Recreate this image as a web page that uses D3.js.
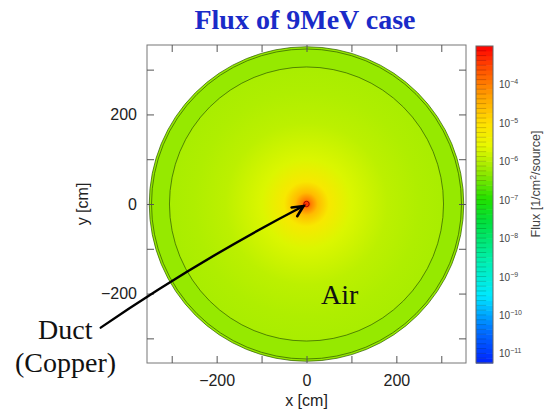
<!DOCTYPE html>
<html>
<head>
<meta charset="utf-8">
<script src="https://cdn.jsdelivr.net/npm/d3@7"></script>
<style>
  body { margin: 0; background: #fff; }
  svg { display: block; }
</style>
</head>
<body>
<svg id="chart" width="545" height="416"></svg>
<script>
// radial flux profile (radius in cm, log10 flux)
const profileRadius = [0, 4, 10, 25, 50, 100, 180, 250, 305];
const profileLogFlux = [-3.2, -3.5, -4.0, -4.6, -5.2, -5.7, -5.95, -6.05, -6.1];
// outer air ring between the two boundaries
const ringRadius = [305, 350];
const ringLogFlux = -6.25;
const contourRadii = [305, 345, 350];
const ductRadius = 6;

// colour bar
const cbarStops = [-11.2, -10.4, -9.5, -8.6, -7.6, -7.0, -6.3, -5.6, -5.0, -4.3, -3.6, -3.0];
const cbarColors = ["#0028ff", "#0070ff", "#00e8ff", "#00f0b0", "#00e040", "#20e000",
  "#90e800", "#e8f800", "#ffe000", "#ffa000", "#ff5000", "#ff0000"];
const cbarTicks = [-11, -10, -9, -8, -7, -6, -5, -4];

const axisTicks = [-300, -200, -100, 0, 100, 200, 300];
const labelledTicks = [-200, 0, 200];

const svg = d3.select("#chart");

const x = d3.scaleLinear().domain([-355, 355]).range([147, 466]);
const y = d3.scaleLinear().domain([-355, 355]).range([363, 45]);
const color = d3.scaleLinear().domain(cbarStops).range(cbarColors).clamp(true);
const cy = d3.scaleLinear().domain([-11.25, -3]).range([363, 46]);

const pxPerCm = x(1) - x(0);
const outerR = ringRadius[1];

// gradient for the flux map
const defs = svg.append("defs");
const grad = defs.append("radialGradient")
  .attr("id", "flux")
  .attr("gradientUnits", "userSpaceOnUse")
  .attr("cx", x(0)).attr("cy", y(0))
  .attr("r", outerR * pxPerCm);
profileRadius.forEach((r, i) => {
  grad.append("stop")
    .attr("offset", r / outerR)
    .attr("stop-color", color(profileLogFlux[i]));
});
grad.append("stop").attr("offset", ringRadius[0] / outerR).attr("stop-color", color(ringLogFlux));
grad.append("stop").attr("offset", 1).attr("stop-color", color(ringLogFlux));

svg.append("circle")
  .attr("cx", x(0)).attr("cy", y(0))
  .attr("r", outerR * pxPerCm)
  .attr("fill", "url(#flux)");

svg.append("g").selectAll("circle")
  .data(contourRadii)
  .join("circle")
  .attr("cx", x(0)).attr("cy", y(0))
  .attr("r", d => d * pxPerCm)
  .attr("fill", "none")
  .attr("stroke", "#2f5a00")
  .attr("stroke-opacity", 0.8)
  .attr("stroke-width", 0.9);

svg.append("circle")
  .attr("cx", x(0)).attr("cy", y(0))
  .attr("r", ductRadius * pxPerCm)
  .attr("fill", "none")
  .attr("stroke", "#a00000")
  .attr("stroke-width", 1);

// frame + ticks
svg.append("rect")
  .attr("x", x(-355)).attr("y", y(355))
  .attr("width", x(355) - x(-355)).attr("height", y(-355) - y(355))
  .attr("fill", "none").attr("stroke", "#777");

const fmt = d => labelledTicks.includes(d) ? d3.format("d")(d) : "";

function styleAxis(g) {
  g.select(".domain").remove();
  g.selectAll(".tick line").attr("stroke", "#555");
  g.selectAll(".tick text")
    .attr("font-family", "Liberation Sans, Arial, sans-serif")
    .attr("font-size", 16)
    .attr("fill", "#222");
}

svg.append("g").attr("transform", `translate(0,${y(-355)})`)
  .call(d3.axisBottom(x).tickValues(axisTicks).tickFormat(fmt).tickSizeInner(-7).tickSizeOuter(0).tickPadding(12))
  .call(styleAxis);
svg.append("g").attr("transform", `translate(0,${y(355)})`)
  .call(d3.axisTop(x).tickValues(axisTicks).tickFormat("").tickSizeInner(-7).tickSizeOuter(0))
  .call(styleAxis);
svg.append("g").attr("transform", `translate(${x(-355)},0)`)
  .call(d3.axisLeft(y).tickValues(axisTicks).tickFormat(fmt).tickSizeInner(-7).tickSizeOuter(0).tickPadding(10))
  .call(styleAxis);
svg.append("g").attr("transform", `translate(${x(355)},0)`)
  .call(d3.axisRight(y).tickValues(axisTicks).tickFormat("").tickSizeInner(-7).tickSizeOuter(0))
  .call(styleAxis);

// axis titles
svg.append("text")
  .attr("x", x(0)).attr("y", 406)
  .attr("text-anchor", "middle")
  .attr("font-family", "Liberation Sans, Arial, sans-serif")
  .attr("font-size", 16).attr("fill", "#222")
  .text("x [cm]");
svg.append("text")
  .attr("transform", `translate(88,${y(0)}) rotate(-90)`)
  .attr("text-anchor", "middle")
  .attr("font-family", "Liberation Sans, Arial, sans-serif")
  .attr("font-size", 16).attr("fill", "#222")
  .text("y [cm]");

// title
svg.append("text")
  .attr("x", 305).attr("y", 29)
  .attr("text-anchor", "middle")
  .attr("font-family", "Liberation Serif, Times New Roman, serif")
  .attr("font-weight", "bold")
  .attr("font-size", 28)
  .attr("fill", "#1a2bc8")
  .text("Flux of 9MeV case");

// colour bar
const cbX = 476, cbW = 17;
const steps = d3.range(-11.25, -3, 0.125);
svg.append("g").selectAll("rect")
  .data(steps)
  .join("rect")
  .attr("x", cbX)
  .attr("y", d => cy(d + 0.125))
  .attr("width", cbW)
  .attr("height", d => cy(d) - cy(d + 0.125) + 0.5)
  .attr("fill", d => color(d + 0.0625));
svg.append("g").selectAll("line")
  .data(steps)
  .join("line")
  .attr("x1", cbX).attr("x2", cbX + cbW * 0.6)
  .attr("y1", d => cy(d)).attr("y2", d => cy(d))
  .attr("stroke", "#000")
  .attr("stroke-opacity", 0.18);
svg.append("rect")
  .attr("x", cbX).attr("y", cy(-3))
  .attr("width", cbW).attr("height", cy(-11.25) - cy(-3))
  .attr("fill", "none").attr("stroke", "#666");

const cbLabels = svg.append("g").selectAll("text")
  .data(cbarTicks)
  .join("text")
  .attr("x", 499)
  .attr("y", d => cy(d) + 4)
  .attr("font-family", "Liberation Sans, Arial, sans-serif")
  .attr("font-size", 10)
  .attr("fill", "#444");
cbLabels.append("tspan").text("10");
cbLabels.append("tspan").attr("dy", -4).attr("font-size", 7).text(d => "\u2212" + Math.abs(d));

const cbTitle = svg.append("text")
  .attr("transform", `translate(540,184) rotate(-90)`)
  .attr("text-anchor", "middle")
  .attr("font-family", "Liberation Sans, Arial, sans-serif")
  .attr("font-size", 12.5)
  .attr("fill", "#444");
cbTitle.append("tspan").text("Flux [1/cm");
cbTitle.append("tspan").attr("dy", -4).attr("font-size", 8.5).text("2");
cbTitle.append("tspan").attr("dy", 4).text("/source]");

// annotations
const serif = "Liberation Serif, Times New Roman, serif";
svg.append("text").attr("x", 321).attr("y", 304)
  .attr("font-family", serif).attr("font-size", 28).attr("fill", "#111").text("Air");
svg.append("text").attr("x", 38).attr("y", 339)
  .attr("font-family", serif).attr("font-size", 28).attr("fill", "#111").text("Duct");
svg.append("text").attr("x", 15).attr("y", 372)
  .attr("font-family", serif).attr("font-size", 28).attr("fill", "#111").text("(Copper)");

// arrow from the label to the duct at the origin
const arrowStart = [-458, -276];
const tip = [x(0) - 3, y(0) + 2];
const start = [x(arrowStart[0]), y(arrowStart[1])];
svg.append("path")
  .attr("d", `M${start[0]},${start[1]} Q${(start[0] + tip[0]) / 2 - 4},${(start[1] + tip[1]) / 2 - 6} ${tip[0]},${tip[1]}`)
  .attr("fill", "none").attr("stroke", "#000").attr("stroke-width", 2.4)
  .attr("stroke-linecap", "round");
const ang = Math.atan2(tip[1] - start[1], tip[0] - start[0]) - 0.03;
const ah = 12;
svg.append("path")
  .attr("d", `M${tip[0] - ah * Math.cos(ang - 0.45)},${tip[1] - ah * Math.sin(ang - 0.45)} L${tip[0]},${tip[1]} L${tip[0] - ah * Math.cos(ang + 0.45)},${tip[1] - ah * Math.sin(ang + 0.45)}`)
  .attr("fill", "none").attr("stroke", "#000").attr("stroke-width", 2.6)
  .attr("stroke-linejoin", "miter").attr("stroke-linecap", "round");
</script>
</body>
</html>
